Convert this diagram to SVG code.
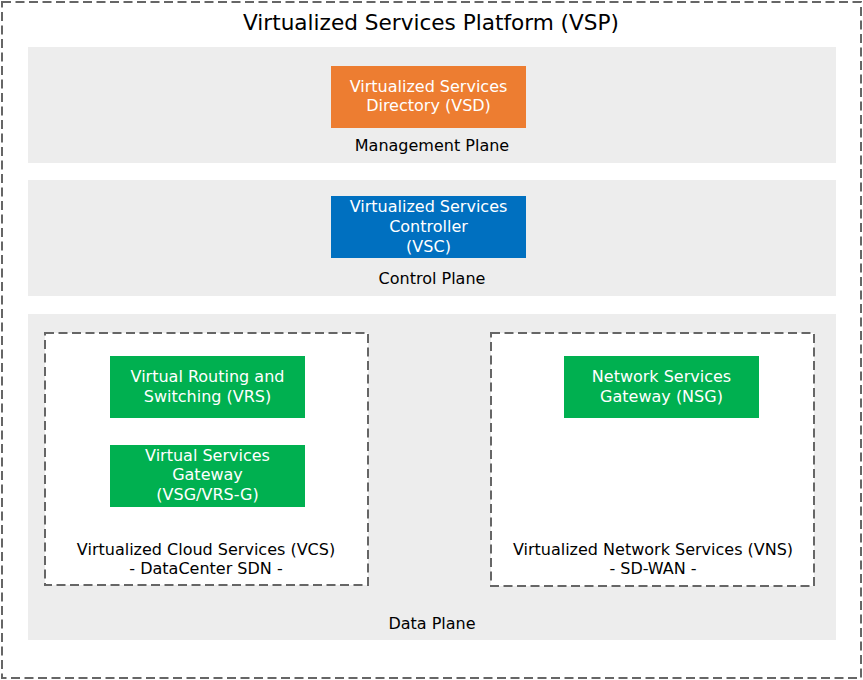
<svg xmlns="http://www.w3.org/2000/svg" width="863" height="680" viewBox="0 0 863 680">
<style>
.band{fill:#ededed}
.dash{fill:#fff;stroke:#666;stroke-width:2;stroke-dasharray:9 4.5}
.t{font-family:"DejaVu Sans","Liberation Sans",sans-serif;font-size:16px;text-anchor:middle;fill:#000}
.w{fill:#fff}
.title{font-size:21.6px}
</style>
<rect width="863" height="680" fill="#fff"/>
<g id="vsp">
<rect x="2" y="2" width="859" height="676" class="dash"/>
<text x="431" y="30" class="t title">Virtualized Services Platform (VSP)</text>
</g>
<g id="management-plane">
<rect x="28" y="47" width="808" height="116" class="band"/>
<text x="432" y="151" class="t">Management Plane</text>
</g>
<g id="control-plane">
<rect x="28" y="180" width="808" height="116" class="band"/>
<text x="432" y="284" class="t">Control Plane</text>
</g>
<g id="data-plane">
<rect x="28" y="314" width="808" height="326" class="band"/>
<text x="432" y="629" class="t">Data Plane</text>
</g>
<g id="vcs">
<rect x="45" y="333" width="323" height="252" class="dash"/>
<text x="206" y="555" class="t">Virtualized Cloud Services (VCS)</text>
<text x="206" y="574" class="t">- DataCenter SDN -</text>
</g>
<g id="vns">
<rect x="491" y="333" width="323" height="253" class="dash"/>
<text x="653" y="555" class="t">Virtualized Network Services (VNS)</text>
<text x="653" y="574" class="t">- SD-WAN -</text>
</g>
<g id="vsd">
<rect x="331" y="66" width="195" height="62" fill="#ed7d31"/>
<text x="428.5" y="92" class="t w">Virtualized Services</text>
<text x="428.5" y="111" class="t w">Directory (VSD)</text>
</g>
<g id="vsc">
<rect x="331" y="196" width="195" height="62" fill="#0070c0"/>
<text x="428.5" y="212" class="t w">Virtualized Services</text>
<text x="428.5" y="232" class="t w">Controller</text>
<text x="428.5" y="252" class="t w">(VSC)</text>
</g>
<g id="vrs">
<rect x="110" y="356" width="195" height="62" fill="#00b050"/>
<text x="207.5" y="382" class="t w">Virtual Routing and</text>
<text x="207.5" y="402" class="t w">Switching (VRS)</text>
</g>
<g id="vsg">
<rect x="110" y="445" width="195" height="62" fill="#00b050"/>
<text x="207.5" y="461" class="t w">Virtual Services</text>
<text x="207.5" y="480" class="t w">Gateway</text>
<text x="207.5" y="500" class="t w">(VSG/VRS-G)</text>
</g>
<g id="nsg">
<rect x="564" y="356" width="195" height="62" fill="#00b050"/>
<text x="661.5" y="382" class="t w">Network Services</text>
<text x="661.5" y="402" class="t w">Gateway (NSG)</text>
</g>
<g id="connectors"></g>
</svg>
